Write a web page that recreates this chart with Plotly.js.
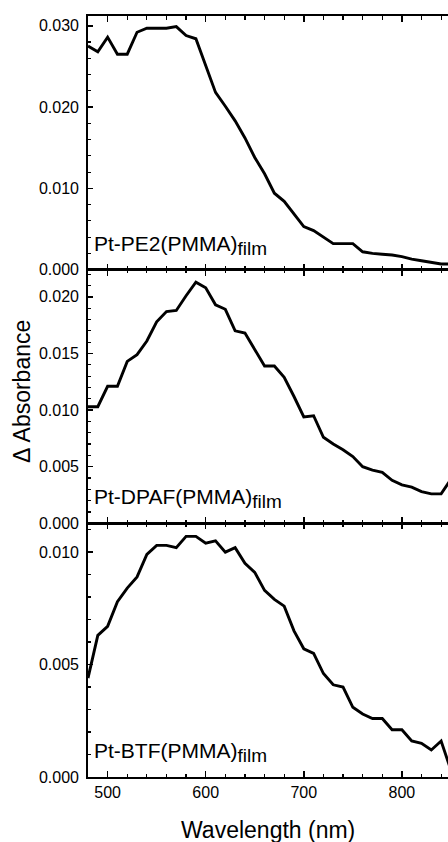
<!DOCTYPE html>
<html>
<head>
<meta charset="utf-8">
<script src="https://cdn.plot.ly/plotly-3.0.1.min.js"></script>
<style>html,body{margin:0;padding:0;background:#fff;}#chart{width:448px;height:842px;}</style>
</head>
<body>
<div id="chart"></div>
<script>
const wavelength = [480,490,500,510,520,530,540,550,560,570,580,590,600,610,620,630,640,650,660,670,680,690,700,710,720,730,740,750,760,770,780,790,800,810,820,830,840,850];
const absPE2 = [0.0275,0.0268,0.0286,0.0265,0.0265,0.0292,0.0297,0.0297,0.0297,0.0299,0.0288,0.0284,0.0251,0.0218,0.0201,0.0183,0.0162,0.0138,0.0118,0.0094,0.0084,0.0069,0.0053,0.0048,0.0040,0.0032,0.0032,0.0032,0.0022,0.0020,0.0019,0.0018,0.0016,0.0013,0.0011,0.0009,0.0007,0.0007];
const absDPAF = [0.0103,0.0103,0.0121,0.0121,0.0143,0.0149,0.0161,0.0178,0.0187,0.0188,0.0201,0.0213,0.0208,0.0193,0.0189,0.0170,0.0168,0.0154,0.0139,0.0139,0.0129,0.0112,0.0094,0.0095,0.0076,0.0070,0.0065,0.0059,0.0050,0.0047,0.0045,0.0038,0.0034,0.0032,0.0028,0.0026,0.0026,0.0039];
const absBTF = [0.0044,0.0063,0.0067,0.0078,0.0084,0.0089,0.0099,0.0103,0.0103,0.0102,0.0107,0.0107,0.0104,0.0105,0.0100,0.0102,0.0095,0.0091,0.0083,0.0079,0.0076,0.0065,0.0057,0.0055,0.0046,0.0041,0.0040,0.0031,0.0028,0.0026,0.0026,0.0021,0.0021,0.0016,0.0015,0.0012,0.0016,0.0003];
const labelMain = ['Pt-PE2(PMMA)','Pt-DPAF(PMMA)','Pt-BTF(PMMA)'];
const labelSub = 'film';
const xTitle = 'Wavelength (nm)';
const yTitle = '\u0394 Absorbance';

const FONT = 'Liberation Sans, Arial, Helvetica, sans-serif';
const line = {color:'#000', width:2.9};
const traces = [
  {x:wavelength, y:absBTF, xaxis:'x', yaxis:'y', mode:'lines', line:line, hoverinfo:'skip'},
  {x:wavelength, y:absDPAF, xaxis:'x2', yaxis:'y2', mode:'lines', line:line, hoverinfo:'skip'},
  {x:wavelength, y:absPE2, xaxis:'x3', yaxis:'y3', mode:'lines', line:line, hoverinfo:'skip'}
];
function xax(anchor, showLabels){
  return {anchor:anchor, range:[480,847], dtick:100, tick0:0, ticks:'inside', ticklen:6, tickwidth:1.5, tickcolor:'#000',
    showline:true, linecolor:'#000', linewidth:1.8, mirror:'ticks', showgrid:false, zeroline:false,
    showticklabels:showLabels, tickfont:{family:FONT, size:16, color:'#000'},
    minor:{dtick:20, tick0:0, ticks:'inside', ticklen:3.5, tickwidth:1.2, tickcolor:'#000', showgrid:false}};
}
function yax(dom, range, dtick, mdtick){
  return {domain:dom, range:range, dtick:dtick, tick0:0, tickformat:'.3f', ticks:'inside', ticklen:5, tickwidth:1.5, tickcolor:'#000',
    showline:true, linecolor:'#000', linewidth:1.8, showgrid:false, zeroline:false, ticklabelstandoff:4,
    tickfont:{family:FONT, size:16, color:'#000'},
    minor:{dtick:mdtick, tick0:0, ticks:'inside', ticklen:3, tickwidth:1.2, tickcolor:'#000', showgrid:false}};
}
function label(i, xr, yr){
  return {text:labelMain[i] + '<sub><span style="font-size:19px">' + labelSub + '</span></sub>',
    xref:xr, yref:yr, x:0.01, y:0.036, xanchor:'left', yanchor:'bottom', showarrow:false,
    font:{family:FONT, size:21, color:'#000'}};
}
const layout = {
  width:448, height:842, margin:{l:88, r:0, t:16, b:65},
  paper_bgcolor:'#fff', plot_bgcolor:'#fff', showlegend:false,
  font:{family:FONT, color:'#000'},
  xaxis: xax('y', true),
  xaxis2: xax('y2', false),
  xaxis3: xax('y3', false),
  yaxis: yax([0, 1/3], [0, 0.01128], 0.005, 0.001),
  yaxis2: yax([1/3, 2/3], [0, 0.0224], 0.005, 0.001),
  yaxis3: yax([2/3, 1], [0, 0.0312], 0.010, 0.002),
  annotations:[
    label(0, 'x3 domain', 'y3 domain'),
    label(1, 'x2 domain', 'y2 domain'),
    label(2, 'x domain', 'y domain'),
    {text:xTitle, xref:'paper', yref:'paper', x:0.5, y:-0.0696, xanchor:'center', yanchor:'middle', showarrow:false, font:{family:FONT, size:23, color:'#000'}},
    {text:yTitle, xref:'paper', yref:'paper', x:-0.1833, y:0.506, xanchor:'center', yanchor:'middle', textangle:-90, showarrow:false, font:{family:FONT, size:23, color:'#000'}}
  ]
};
Plotly.newPlot('chart', traces, layout, {staticPlot:true, displayModeBar:false});
</script>
</body>
</html>
